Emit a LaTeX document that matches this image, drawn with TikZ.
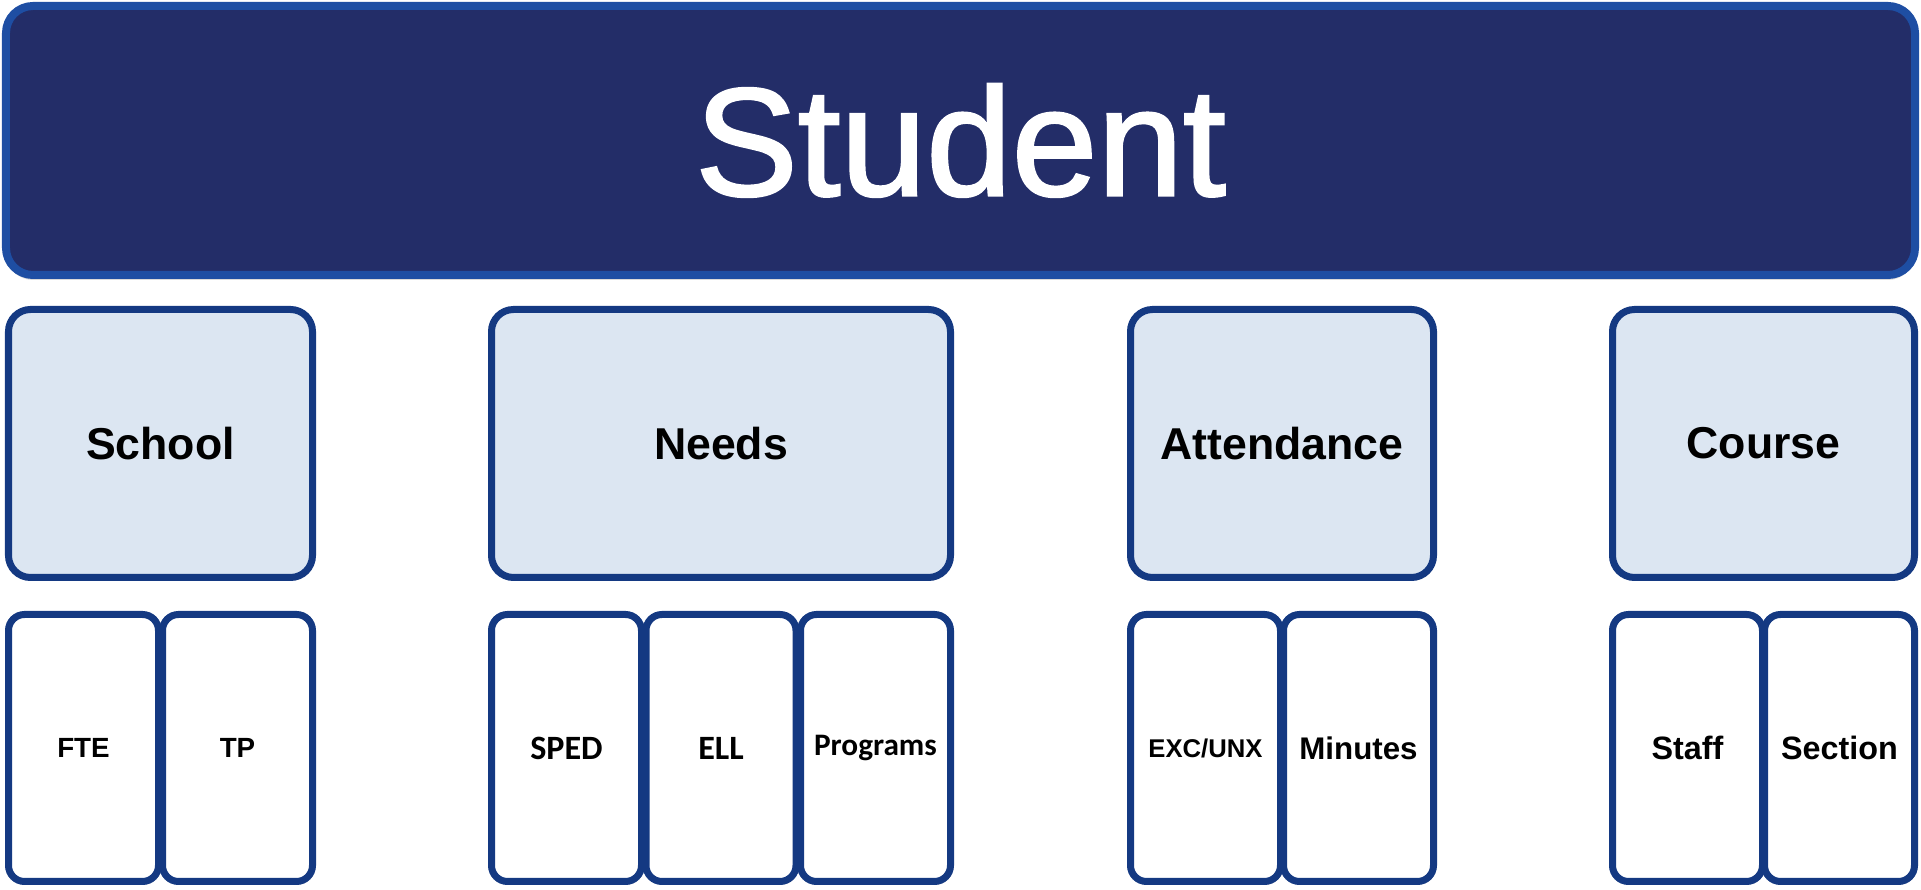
\documentclass[tikz,border=0pt]{standalone}
\usepackage{fontspec}
\setmainfont{Liberation Sans}
\newfontfamily\calfont{Carlito}
\newfontfamily\titlefont{Liberation Sans}[FakeBold=1.6]
\usetikzlibrary{shadows}

\definecolor{navy}{HTML}{232D68}
\definecolor{topline}{HTML}{1E4EA3}
\definecolor{boxline}{HTML}{143982}
\definecolor{boxfill}{HTML}{DCE6F2}

\begin{document}
\begin{tikzpicture}
	\tikzstyle{student} = [rectangle, draw=topline, fill=navy, line width=0.08cm, rounded corners=0.27cm, minimum width=19.09cm, minimum height=2.69cm, text=white, font=\titlefont\fontsize{43.8}{44}\selectfont, drop shadow={opacity=0.3, shadow xshift=0cm, shadow yshift=-0.05cm}]
	\tikzstyle{group} = [rectangle, draw=boxline, fill=boxfill, line width=0.07cm, rounded corners=0.22cm, minimum height=2.68cm, font=\fontsize{12.7}{14}\selectfont\bfseries, drop shadow={opacity=0.2, shadow xshift=0.02cm, shadow yshift=-0.03cm}]
	\tikzstyle{leaf} = [rectangle, draw=boxline, fill=white, line width=0.07cm, rounded corners=0.16cm, minimum width=1.50cm, minimum height=2.67cm, inner sep=0pt, drop shadow={opacity=0.2, shadow xshift=0.02cm, shadow yshift=-0.03cm}]
	\tikzstyle{leafa} = [font=\fontsize{7.9}{9}\selectfont\bfseries]
	\tikzstyle{leafb} = [font=\fontsize{9.7}{11}\selectfont\calfont\bfseries]
	\tikzstyle{leafp} = [font=\fontsize{8.9}{10}\selectfont\calfont\bfseries]
	\tikzstyle{leafc} = [font=\fontsize{7.3}{8}\selectfont\bfseries]
	\tikzstyle{leafd} = [font=\fontsize{8.9}{10}\selectfont\bfseries]
	\tikzstyle{leafe} = [font=\fontsize{9.2}{10}\selectfont\bfseries]
\def\layerpos{-1.405}

\useasboundingbox (0,0) rectangle (19.21,-8.90);

%record
\node[student] (student) at (9.605, \layerpos) {Student};

%groups
\def\layerpos{-4.435}
\foreach \name/\x/\w in {School/1.605/3.04, Needs/7.21/4.59, Attendance/12.82/3.03, Course/17.635/3.02}
  	\node[group, minimum width=\w cm] (\name) at (\x, \layerpos) {\name};

%fields
\def\layerpos{-7.48}
\foreach \name/\x/\txt/\sty in {fte/0.835/FTE/leafa, tp/2.375/TP/leafa,
		sped/5.665/SPED/leafb, ell/7.21/ELL/leafb, programs/8.755/Programs/leafp,
		excunx/12.055/EXC\slash UNX/leafc, minutes/13.585/Minutes/leafd,
		staff/16.875/Staff/leafe, section/18.395/Section/leafe}
  	\node[leaf, \sty] (\name) at (\x, \layerpos) {\txt};
\end{tikzpicture}
\end{document}
